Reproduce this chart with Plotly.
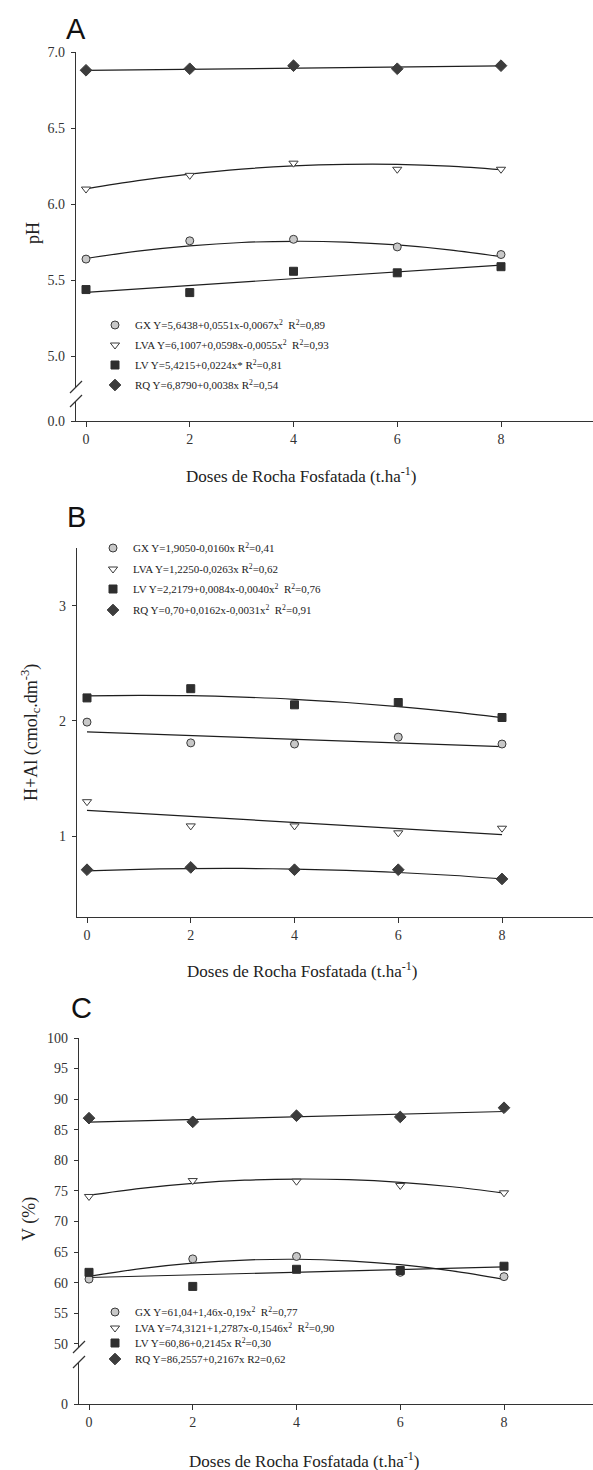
import plotly.graph_objects as go

W, H = 593, 1470


def px(x):
    return x / W


def py(y):
    return 1 - y / H


# ---------------- data ----------------
doses = [0, 2, 4, 6, 8]
fit_x_quad = [0, 1, 2, 3, 4, 5, 6, 7, 8]
fit_x_lin = [0, 8]
series = ["GX", "LVA", "LV", "RQ"]

# Panel A - pH
ph_gx = [5.64, 5.76, 5.77, 5.72, 5.67]
ph_lva = [6.10, 6.19, 6.27, 6.23, 6.23]
ph_lv = [5.44, 5.42, 5.56, 5.55, 5.59]
ph_rq = [6.88, 6.89, 6.91, 6.89, 6.91]
ph_gx_fit = [5.644, 5.692, 5.727, 5.749, 5.757, 5.752, 5.733, 5.701, 5.656]
ph_lva_fit = [6.101, 6.155, 6.198, 6.231, 6.252, 6.262, 6.262, 6.250, 6.227]
ph_lv_fit = [5.422, 5.601]
ph_rq_fit = [6.879, 6.909]
ph_labels = [
    "GX Y=5,6438+0,0551x-0,0067x<sup>2</sup>  R<sup>2</sup>=0,89",
    "LVA Y=6,1007+0,0598x-0,0055x<sup>2</sup>  R<sup>2</sup>=0,93",
    "LV Y=5,4215+0,0224x* R<sup>2</sup>=0,81",
    "RQ Y=6,8790+0,0038x R<sup>2</sup>=0,54",
]
ph_ticks = [5.0, 5.5, 6.0, 6.5, 7.0]

# Panel B - H+Al
hal_gx = [1.99, 1.81, 1.80, 1.86, 1.80]
hal_lva = [1.30, 1.09, 1.09, 1.03, 1.07]
hal_lv = [2.20, 2.28, 2.14, 2.16, 2.03]
hal_rq = [0.71, 0.73, 0.71, 0.71, 0.63]
hal_gx_fit = [1.905, 1.777]
hal_lva_fit = [1.225, 1.015]
hal_lv_fit = [2.218, 2.222, 2.219, 2.207, 2.188, 2.160, 2.124, 2.081, 2.029]
hal_rq_fit = [0.700, 0.713, 0.720, 0.721, 0.715, 0.704, 0.686, 0.662, 0.631]
hal_labels = [
    "GX Y=1,9050-0,0160x R<sup>2</sup>=0,41",
    "LVA Y=1,2250-0,0263x R<sup>2</sup>=0,62",
    "LV Y=2,2179+0,0084x-0,0040x<sup>2</sup>  R<sup>2</sup>=0,76",
    "RQ Y=0,70+0,0162x-0,0031x<sup>2</sup>  R<sup>2</sup>=0,91",
]
hal_ticks = [1, 2, 3]

# Panel C - V (%)
v_gx = [60.6, 63.9, 64.3, 61.7, 61.0]
v_lva = [74.1, 76.7, 76.6, 75.9, 74.7]
v_lv = [61.7, 59.4, 62.2, 62.0, 62.7]
v_rq = [86.9, 86.3, 87.3, 87.1, 88.6]
v_gx_fit = [61.04, 62.31, 63.20, 63.71, 63.84, 63.59, 62.96, 61.95, 60.56]
v_lva_fit = [74.31, 75.44, 76.25, 76.76, 76.95, 76.84, 76.42, 75.69, 74.65]
v_lv_fit = [60.86, 62.58]
v_rq_fit = [86.26, 87.99]
v_labels = [
    "GX Y=61,04+1,46x-0,19x<sup>2</sup>  R<sup>2</sup>=0,77",
    "LVA Y=74,3121+1,2787x-0,1546x<sup>2</sup>  R<sup>2</sup>=0,90",
    "LV Y=60,86+0,2145x R<sup>2</sup>=0,30",
    "RQ Y=86,2557+0,2167x R2=0,62",
]
v_ticks = [50, 55, 60, 65, 70, 75, 80, 85, 90, 95, 100]

x_ticks = [0, 2, 4, 6, 8]

# ---------------- styles ----------------
AX = "#333333"
SERIF = "Liberation Serif"
marker_styles = {
    "GX": dict(symbol="circle", size=8, color="#c8c8c8", line=dict(color="#3a3a3a", width=1)),
    "LVA": dict(symbol="triangle-down", size=8, color="#ffffff", line=dict(color="#3a3a3a", width=1)),
    "LV": dict(symbol="square", size=8, color="#2e2e2e", line=dict(color="#2e2e2e", width=1)),
    "RQ": dict(symbol="diamond", size=9, color="#3c3c3c", line=dict(color="#3c3c3c", width=1)),
}

fig = go.Figure()

panels = [
    dict(xa="x", ya="y", obs=[ph_gx, ph_lva, ph_lv, ph_rq],
         fits=[ph_gx_fit, ph_lva_fit, ph_lv_fit, ph_rq_fit], labels=ph_labels,
         rows=[325, 345, 365, 385], mx=115),
    dict(xa="x2", ya="y3", obs=[hal_gx, hal_lva, hal_lv, hal_rq],
         fits=[hal_gx_fit, hal_lva_fit, hal_lv_fit, hal_rq_fit], labels=hal_labels,
         rows=[548, 569, 589, 610], mx=113),
    dict(xa="x3", ya="y4", obs=[v_gx, v_lva, v_lv, v_rq],
         fits=[v_gx_fit, v_lva_fit, v_lv_fit, v_rq_fit], labels=v_labels,
         rows=[1312, 1328, 1343, 1359], mx=115),
]

legend_layouts = {}
lg_idx = 0
for p in panels:
    # fitted curves first (under markers)
    for s, fy in zip(series, p["fits"]):
        fx = fit_x_quad if len(fy) == len(fit_x_quad) else fit_x_lin
        fig.add_trace(go.Scatter(
            x=fx, y=fy, mode="lines", xaxis=p["xa"], yaxis=p["ya"],
            line=dict(color="#1e1e1e", width=1.2, shape="spline" if len(fy) > 2 else "linear"),
            showlegend=False, hoverinfo="skip"))
    for i, (s, oy, lab) in enumerate(zip(series, p["obs"], p["labels"])):
        lg_idx += 1
        lname = "legend" if lg_idx == 1 else f"legend{lg_idx}"
        fig.add_trace(go.Scatter(
            x=doses, y=oy, mode="markers", xaxis=p["xa"], yaxis=p["ya"],
            marker=marker_styles[s], name=lab, legend=lname, showlegend=True))
        legend_layouts[lname] = dict(
            x=px(p["mx"] - 20), y=py(p["rows"][i]), xanchor="left", yanchor="middle",
            bgcolor="rgba(0,0,0,0)", borderwidth=0,
            font=dict(family=SERIF, size=11, color="#222222"),
            itemwidth=30)

# empty traces so lower break segments exist
fig.add_trace(go.Scatter(x=[], y=[], xaxis="x", yaxis="y2", showlegend=False))
fig.add_trace(go.Scatter(x=[], y=[], xaxis="x3", yaxis="y5", showlegend=False))

tickfont = dict(family=SERIF, size=14, color="#333333")
common_x = dict(showgrid=False, zeroline=False, showline=True, linecolor=AX, linewidth=1.2,
                ticks="outside", ticklen=5, tickcolor=AX, tickwidth=1, tickfont=tickfont,
                tickvals=x_ticks, ticktext=[str(v) for v in x_ticks])
common_y = dict(showgrid=False, zeroline=False, showline=True, linecolor=AX, linewidth=1.2,
                ticks="outside", ticklen=4, tickcolor=AX, tickwidth=1, tickfont=tickfont,
                ticklabelstandoff=3)

fig.update_layout(
    width=W, height=H, margin=dict(l=0, r=0, t=0, b=0),
    paper_bgcolor="white", plot_bgcolor="white", template="none",
    showlegend=True,
    # Panel A
    xaxis=dict(common_x, domain=[px(76), 1], range=[-10 / 51.875, 507 / 51.875], anchor="y2"),
    yaxis=dict(common_y, domain=[py(387), py(52)], range=[4.8, 7.0], anchor="x",
               tickvals=ph_ticks, ticktext=[f"{v:.1f}" for v in ph_ticks]),
    yaxis2=dict(common_y, domain=[py(421), py(401)], range=[0, 1], anchor="x",
                tickvals=[0], ticktext=["0.0"]),
    # Panel B
    xaxis2=dict(common_x, domain=[px(77), 1], range=[-10 / 51.875, 506 / 51.875], anchor="y3"),
    yaxis3=dict(common_y, domain=[py(917), py(548)], range=[0.3, 3.5], anchor="x2",
                tickvals=hal_ticks, ticktext=[str(v) for v in hal_ticks]),
    # Panel C
    xaxis3=dict(common_x, domain=[px(79), 1], range=[-10 / 51.875, 504 / 51.875], anchor="y5"),
    yaxis4=dict(common_y, domain=[py(1347), py(1038)], range=[49.5, 100], anchor="x3",
                tickvals=v_ticks, ticktext=[str(v) for v in v_ticks]),
    yaxis5=dict(common_y, domain=[py(1404), py(1362)], range=[0, 1], anchor="x3",
                tickvals=[0], ticktext=["0"]),
    **legend_layouts,
)

# axis break marks
shapes = []
for cx, cy in [(76, 387), (76, 401), (79, 1347), (79, 1362)]:
    shapes.append(dict(type="line", xref="paper", yref="paper",
                       x0=px(cx - 6), y0=py(cy + 6), x1=px(cx + 6), y1=py(cy - 6),
                       line=dict(color=AX, width=1.2)))
fig.update_layout(shapes=shapes)

# panel letters, axis titles
ann = []
for letter, (lx, ly) in zip(["A", "B", "C"], [(76, 29), (76, 517), (81, 1008)]):
    ann.append(dict(text=letter, x=px(lx), y=py(ly), xref="paper", yref="paper",
                    showarrow=False, xanchor="center", yanchor="middle",
                    font=dict(family="Liberation Sans", size=29, color="#111111")))
xtitle = "Doses de Rocha Fosfatada (t.ha<sup>-1</sup>)"
for tx, ty in [(301, 475), (302, 970), (304, 1460)]:
    ann.append(dict(text=xtitle, x=px(tx), y=py(ty), xref="paper", yref="paper",
                    showarrow=False, xanchor="center", yanchor="middle",
                    font=dict(family=SERIF, size=17, color="#222222")))
for txt, (tx, ty) in zip(["pH", "H+Al (cmol<sub>c</sub>.dm<sup>-3</sup>)", "V (%)"],
                         [(33, 233), (30, 733), (29, 1219)]):
    ann.append(dict(text=txt, x=px(tx), y=py(ty), xref="paper", yref="paper",
                    showarrow=False, xanchor="center", yanchor="middle", textangle=-90,
                    font=dict(family=SERIF, size=18, color="#222222")))
fig.update_layout(annotations=ann)

fig.write_html("out.html")
